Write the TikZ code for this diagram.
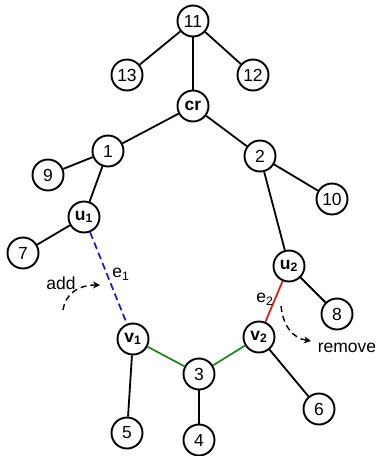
\documentclass[tikz,border=0pt]{standalone}
\usepackage{fontspec}
\setmainfont{Liberation Sans}
\usetikzlibrary{arrows.meta}
\definecolor{eblue}{RGB}{20,20,220}
\definecolor{ered}{RGB}{230,20,20}
\definecolor{egreen}{RGB}{30,130,30}
\begin{document}
\begin{tikzpicture}[x=1pt,y=-1pt,
  vert/.style={circle,draw=black,fill=white,line width=1.9pt,minimum size=31pt,inner sep=0pt,font=\fontsize{17.5}{19}\selectfont},
  edge/.style={line width=1.8pt,black},
  lbl/.style={font=\fontsize{17.5}{19}\selectfont,inner sep=0pt},
  curvearrow/.style={line width=1.4pt,dashed,dash pattern=on 6pt off 4pt,-{Stealth[length=7pt,width=7pt]}}]
\useasboundingbox (0,0) rectangle (378,456);
\node[vert] (n11) at (193,21) {11};
\node[vert] (n13) at (127,75) {13};
\node[vert] (n12) at (253,75) {12};
\node[vert] (cr) at (193,106) {\textbf{cr}};
\node[vert] (n1) at (108,151) {1};
\node[vert] (n2) at (260,156) {2};
\node[vert] (n9) at (48,175) {9};
\node[vert] (n10) at (332,199) {10};
\node[vert] (u1) at (84,217) {\textbf{u\textsubscript{1}}};
\node[vert] (n7) at (23,253) {7};
\node[vert] (u2) at (289,266) {\textbf{u\textsubscript{2}}};
\node[vert] (n8) at (337,314) {8};
\node[vert] (v1) at (133,339) {\textbf{v\textsubscript{1}}};
\node[vert] (v2) at (259,337) {\textbf{v\textsubscript{2}}};
\node[vert] (n3) at (199,374) {3};
\node[vert] (n6) at (319,409) {6};
\node[vert] (n5) at (127,433) {5};
\node[vert] (n4) at (199,440) {4};
\draw[edge] (n11) -- (n13);
\draw[edge] (n11) -- (n12);
\draw[edge] (n11) -- (cr);
\draw[edge] (cr) -- (n1);
\draw[edge] (cr) -- (n2);
\draw[edge] (n1) -- (n9);
\draw[edge] (n1) -- (u1);
\draw[edge] (u1) -- (n7);
\draw[line width=1.7pt,eblue,dashed,dash pattern=on 7pt off 4pt] (u1) -- (v1);
\draw[edge] (n2) -- (n10);
\draw[edge] (n2) -- (u2);
\draw[edge] (u2) -- (n8);
\draw[line width=1.7pt,ered] (u2) -- (v2);
\draw[line width=1.7pt,egreen] (v1) -- (n3);
\draw[line width=1.7pt,egreen] (v2) -- (n3);
\draw[edge] (v1) -- (n5);
\draw[edge] (n3) -- (n4);
\draw[edge] (v2) -- (n6);
\node[lbl] (e1) at (121,274) {e\textsubscript{1}};
\node[lbl] (e2) at (265,299) {e\textsubscript{2}};
\node[lbl] (add) at (61,283) {add};
\node[lbl] (remove) at (347,348) {remove};
\coordinate (a0) at (63,310);
\coordinate (a1) at (100,285);
\coordinate (r0) at (281,306);
\coordinate (r1) at (311,341);
\draw[curvearrow] (a0) .. controls (66,292) and (80,285) .. (a1);
\draw[curvearrow] (r0) .. controls (283,325) and (292,338) .. (r1);
\end{tikzpicture}
\end{document}
